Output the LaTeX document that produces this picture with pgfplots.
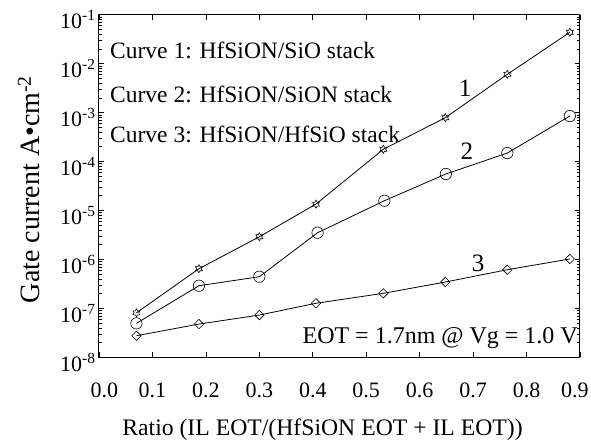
\documentclass[border=0pt]{standalone}
\usepackage{fontspec}
\setmainfont{Liberation Serif}
\usepackage{pgfplots}
\pgfplotsset{compat=1.18}

\pgfdeclareplotmark{hexagram}{%
  \pgfpathmoveto{\pgfpointpolar{90}{\pgfplotmarksize}}%
  \pgfpathlineto{\pgfpointpolar{120}{0.57735\pgfplotmarksize}}%
  \pgfpathlineto{\pgfpointpolar{150}{\pgfplotmarksize}}%
  \pgfpathlineto{\pgfpointpolar{180}{0.57735\pgfplotmarksize}}%
  \pgfpathlineto{\pgfpointpolar{210}{\pgfplotmarksize}}%
  \pgfpathlineto{\pgfpointpolar{240}{0.57735\pgfplotmarksize}}%
  \pgfpathlineto{\pgfpointpolar{270}{\pgfplotmarksize}}%
  \pgfpathlineto{\pgfpointpolar{300}{0.57735\pgfplotmarksize}}%
  \pgfpathlineto{\pgfpointpolar{330}{\pgfplotmarksize}}%
  \pgfpathlineto{\pgfpointpolar{0}{0.57735\pgfplotmarksize}}%
  \pgfpathlineto{\pgfpointpolar{30}{\pgfplotmarksize}}%
  \pgfpathlineto{\pgfpointpolar{60}{0.57735\pgfplotmarksize}}%
  \pgfpathclose
  \pgfusepathqstroke
}
\pgfdeclareplotmark{sqdiamond}{%
  \pgfpathmoveto{\pgfqpoint{0pt}{\pgfplotmarksize}}%
  \pgfpathlineto{\pgfqpoint{\pgfplotmarksize}{0pt}}%
  \pgfpathlineto{\pgfqpoint{0pt}{-\pgfplotmarksize}}%
  \pgfpathlineto{\pgfqpoint{-\pgfplotmarksize}{0pt}}%
  \pgfpathclose
  \pgfusepathqstroke
}

\begin{document}
\begin{tikzpicture}
\begin{axis}[
  scale only axis,
  width=481bp, height=342.6bp,
  xmin=0, xmax=0.9,
  ymode=log, ymin=1e-8, ymax=1e-1,
  xtick={0,0.1,0.2,0.3,0.4,0.5,0.6,0.7,0.8,0.9},
  xticklabels={\kern11bp 0.0,0.1,0.2,0.3,0.4,0.5,0.6,0.7,0.8,0.9\kern10bp\null},
  ytick={1e-8,1e-7,1e-6,1e-5,1e-4,1e-3,1e-2,1e-1},
  yticklabels={10\textsuperscript{-8},10\textsuperscript{-7},10\textsuperscript{-6},10\textsuperscript{-5},10\textsuperscript{-4},10\textsuperscript{-3},10\textsuperscript{-2},10\textsuperscript{-1}},
  axis line style={line width=1bp},
  every tick/.style={black, line width=0.6bp},
  major tick length=5bp, minor tick length=3bp,
  tick label style={font=\fontsize{22bp}{24bp}\selectfont},
  x tick label style={anchor=base, yshift=-40bp},
  y tick label style={yshift=-5bp},
  xlabel={Ratio (IL EOT/(HfSiON EOT + IL EOT))},
  xlabel style={at={(axis description cs:0.4647,-0.2268)}, anchor=base, font=\fontsize{23.7bp}{26bp}\selectfont},
  ylabel={Gate current A•cm\textsuperscript{-2}},
  ylabel style={at={(axis description cs:-0.1455,0.49)}, anchor=center, font=\fontsize{28bp}{30bp}\selectfont},
  clip=false,
]
\addplot[black, line width=0.8bp, mark=hexagram, mark size=4bp, mark options={solid, line width=0.6bp}] coordinates {
  (0.070,8.1e-8) (0.187,6.45e-7) (0.300,2.9e-6) (0.406,1.35e-5)
  (0.532,1.78e-4) (0.648,7.86e-4) (0.764,6.05e-3) (0.881,4.37e-2)
};
\addplot[black, line width=0.8bp, mark=o, mark size=5.7bp, mark options={solid, line width=0.6bp}] coordinates {
  (0.070,4.94e-8) (0.187,2.9e-7) (0.300,4.43e-7) (0.409,3.51e-6)
  (0.534,1.58e-5) (0.649,5.56e-5) (0.764,1.49e-4) (0.881,8.5e-4)
};
\addplot[black, line width=0.8bp, mark=sqdiamond, mark size=4.7bp, mark options={solid, line width=0.6bp}] coordinates {
  (0.070,2.76e-8) (0.187,4.78e-8) (0.300,7.3e-8) (0.406,1.27e-7)
  (0.532,2.03e-7) (0.648,3.45e-7) (0.764,6.16e-7) (0.881,1.02e-6)
};
\node[anchor=base west, inner sep=0pt, font=\fontsize{23.5bp}{25bp}\selectfont] at (rel axis cs:0.0229,0.8736) {Curve 1: HfSiON/SiO stack};
\node[anchor=base west, inner sep=0pt, font=\fontsize{23.5bp}{25bp}\selectfont] at (rel axis cs:0.0229,0.7439) {Curve 2: HfSiON/SiON stack};
\node[anchor=base west, inner sep=0pt, font=\fontsize{23.5bp}{25bp}\selectfont] at (rel axis cs:0.0229,0.6271) {Curve 3: HfSiON/HfSiO stack};
\node[anchor=base east, inner sep=0pt, font=\fontsize{24bp}{26bp}\selectfont] at (rel axis cs:0.9958,0.0417) {EOT = 1.7nm @ Vg = 1.0 V};
\node[inner sep=0pt, font=\fontsize{25bp}{27bp}\selectfont] at (rel axis cs:0.761,0.786) {1};
\node[inner sep=0pt, font=\fontsize{25bp}{27bp}\selectfont] at (rel axis cs:0.765,0.602) {2};
\node[inner sep=0pt, font=\fontsize{25bp}{27bp}\selectfont] at (rel axis cs:0.788,0.275) {3};
\end{axis}
\pgfresetboundingbox
\path[use as bounding box] (-99bp,-83.7bp) rectangle (492bp,357.3bp);
\end{tikzpicture}
\end{document}
